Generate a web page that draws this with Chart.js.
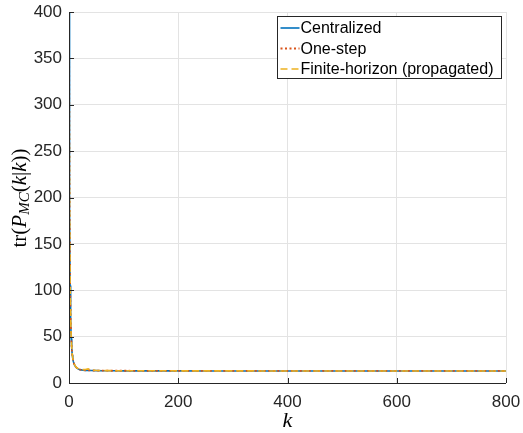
<!DOCTYPE html>
<html>
<head>
<meta charset="utf-8">
<script src="https://cdn.jsdelivr.net/npm/chart.js@4/dist/chart.umd.min.js"></script>
<style>
html,body{margin:0;padding:0;background:#fff;}
#wrap{width:523px;height:433px;position:relative;}
</style>
</head>
<body>
<div id="wrap"><canvas id="c" width="523" height="433"></canvas></div>
<script>
const kValues = [0,1,2,3,4,5,6,7,8,10,12,15,18,20,25,30,35,40,50,60,80,100,150,200,250,300,350,400,450,500,550,600,650,700,750,800];
const centralized = [400,190,105,68,48,37,30,26,23,19.5,17.5,15.8,14.8,14.4,13.9,13.6,13.5,13.4,13.3,13.2,13.2,13.1,13.1,13.1,13.0,13.0,13.0,13.0,13.0,13.0,13.0,13.0,13.0,13.0,13.0,13.0];
const oneStep = [400,192,106,69,49,37.5,30.5,26.3,23.2,19.7,17.6,15.9,14.9,14.5,14.0,13.7,13.6,13.5,13.4,13.3,13.2,13.2,13.1,13.1,13.1,13.0,13.0,13.0,13.0,13.0,13.0,13.0,13.0,13.0,13.0,13.0];
const finiteHorizon = [400,195,108,70,50,38,31,26.8,23.5,20,17.8,16.1,15.1,14.8,14.4,14.6,15.2,14.2,13.5,13.4,13.3,13.2,13.2,13.1,13.1,13.1,13.0,13.0,13.0,13.0,13.0,13.0,13.0,13.0,13.0,13.0];
const seriesNames = ['Centralized','One-step','Finite-horizon (propagated)'];
const yTicks = [0,50,100,150,200,250,300,350,400];
const xTicks = [0,200,400,600,800];

const colors = ['#0072BD','#D95319','#EDB120'];
const dashes = [[],[2,2.5],[7,4]];
const widths = [1.6,1.8,1.6];
const seriesData = [centralized, oneStep, finiteHorizon];

const datasets = seriesData.map((vals,i)=>({
  label: seriesNames[i],
  data: kValues.map((k,j)=>({x:k,y:vals[j]})),
  borderColor: colors[i],
  borderWidth: widths[i],
  borderDash: dashes[i],
  pointRadius: 0,
  fill: false,
  tension: 0,
  order: 3-i
}));

const textColor = '#262626';
const sans = "'Liberation Sans', Arial, Helvetica, sans-serif";
const serif = "'Liberation Serif', 'DejaVu Serif', serif";

const decor = {
  id:'decor',
  afterDraw(chart){
    const ctx = chart.ctx;
    const a = chart.chartArea;
    const xs = chart.scales.x, ys = chart.scales.y;
    ctx.save();
    ctx.strokeStyle = textColor;
    ctx.lineWidth = 1;
    ctx.setLineDash([]);
    ctx.beginPath();
    ctx.moveTo(Math.round(a.left)+0.5, a.top);
    ctx.lineTo(Math.round(a.left)+0.5, Math.round(a.bottom)+0.5);
    ctx.lineTo(a.right, Math.round(a.bottom)+0.5);
    ctx.stroke();
    ctx.beginPath();
    yTicks.forEach(v=>{
      const y = Math.round(ys.getPixelForValue(v))+0.5;
      ctx.moveTo(a.left, y); ctx.lineTo(a.left+5, y);
    });
    xTicks.forEach(v=>{
      const x = Math.round(xs.getPixelForValue(v))+0.5;
      ctx.moveTo(x, a.bottom); ctx.lineTo(x, a.bottom-5);
    });
    ctx.stroke();

    // legend
    const lx = 277.5, ly = 16.5, lw = 224, lh = 62;
    ctx.fillStyle = '#fff';
    ctx.fillRect(lx, ly, lw, lh);
    ctx.strokeStyle = textColor;
    ctx.lineWidth = 1;
    ctx.strokeRect(lx, ly, lw, lh);
    ctx.font = '16px ' + sans;
    ctx.textBaseline = 'middle';
    ctx.textAlign = 'left';
    seriesNames.forEach((n,i)=>{
      const yy = ly + 11.5 + i*20.5;
      ctx.strokeStyle = colors[i];
      ctx.lineWidth = widths[i];
      ctx.setLineDash(dashes[i]);
      ctx.beginPath();
      ctx.moveTo(lx+3, yy); ctx.lineTo(lx+22, yy);
      ctx.stroke();
      ctx.setLineDash([]);
      ctx.fillStyle = '#000';
      ctx.fillText(n, lx+23, yy+1);
    });

    // x label
    ctx.fillStyle = '#000';
    ctx.font = 'italic 22px ' + serif;
    ctx.textAlign = 'center';
    ctx.textBaseline = 'middle';
    ctx.fillText('k', (a.left+a.right)/2, 421);

    // y label
    ctx.save();
    ctx.translate(20, 198);
    ctx.rotate(-Math.PI/2);
    const parts = [
      {t:'tr(', f:'21px '+serif, dy:0},
      {t:'P', f:'italic 21px '+serif, dy:0},
      {t:'MC', f:'italic 15px '+serif, dy:5},
      {t:'(', f:'21px '+serif, dy:0},
      {t:'k', f:'italic 21px '+serif, dy:0},
      {t:'|', f:'21px '+serif, dy:0},
      {t:'k', f:'italic 21px '+serif, dy:0},
      {t:'))', f:'21px '+serif, dy:0}
    ];
    let total = 0;
    parts.forEach(p=>{ctx.font=p.f; p.w = ctx.measureText(p.t).width; total += p.w;});
    let x0 = -total/2;
    ctx.textAlign = 'left';
    parts.forEach(p=>{ctx.font=p.f; ctx.fillText(p.t, x0, p.dy); x0 += p.w;});
    ctx.restore();
    ctx.restore();
  }
};

new Chart(document.getElementById('c'), {
  type:'line',
  data:{datasets},
  options:{
    responsive:false,
    animation:false,
    layout:{padding:{top:12,right:17,left:0,bottom:0}},
    plugins:{legend:{display:false},tooltip:{enabled:false}},
    scales:{
      x:{
        type:'linear', min:0, max:800,
        afterBuildTicks(s){ s.ticks = xTicks.map(v=>({value:v})); },
        afterFit(s){ s.height = 50; s.paddingLeft = 0; s.paddingRight = 0; },
        border:{display:false},
        grid:{color:'#e3e3e3', drawTicks:false, lineWidth:1},
        ticks:{color:textColor, font:{size:17, family:sans}, padding:9, maxRotation:0}
      },
      y:{
        type:'linear', min:0, max:400,
        afterBuildTicks(s){ s.ticks = yTicks.map(v=>({value:v})); },
        afterFit(s){ s.width = 69; s.paddingTop = 0; s.paddingBottom = 0; },
        border:{display:false},
        grid:{color:'#e3e3e3', drawTicks:false, lineWidth:1},
        ticks:{color:textColor, font:{size:17, family:sans}, padding:7}
      }
    }
  },
  plugins:[decor]
});
</script>
</body>
</html>
